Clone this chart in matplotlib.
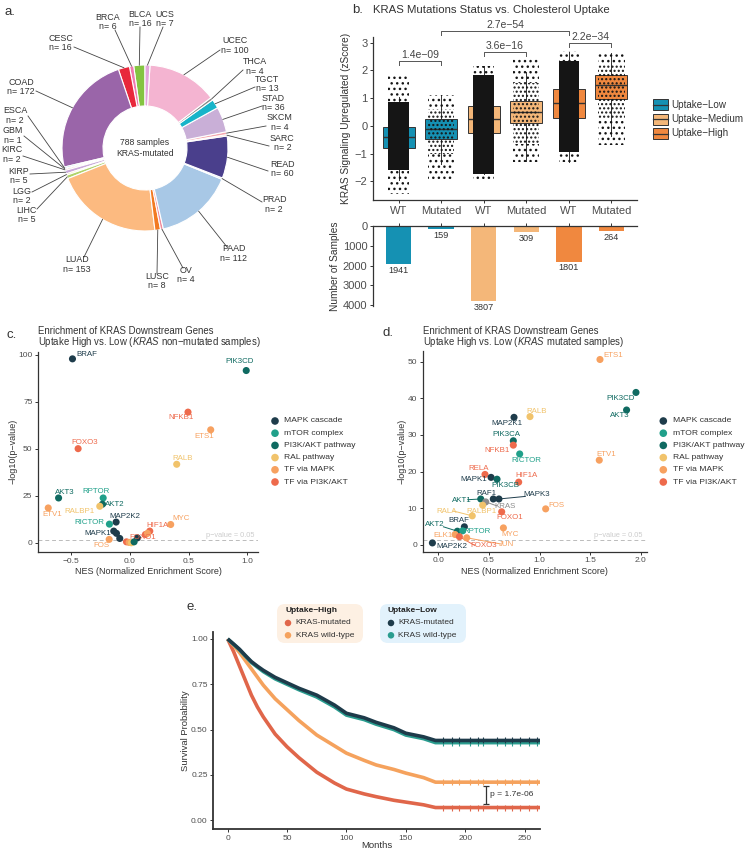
import matplotlib
matplotlib.use('Agg')
import matplotlib.pyplot as plt
import numpy as np
from matplotlib.patches import Rectangle, FancyBboxPatch

plt.rcParams['font.family'] = ['Liberation Sans', 'DejaVu Sans']
plt.rcParams['mathtext.fontset'] = 'custom'
plt.rcParams['mathtext.it'] = 'Liberation Sans:italic'
plt.rcParams['mathtext.rm'] = 'Liberation Sans'
plt.rcParams['hatch.linewidth'] = 1.0

# ---------------- DATA ----------------
# panel a
cancer_types = ['BLCA', 'BRCA', 'CESC', 'COAD', 'ESCA', 'GBM', 'KIRC', 'KIRP', 'LGG', 'LIHC',
                'LUAD', 'LUSC', 'OV', 'PAAD', 'PRAD', 'READ', 'SARC', 'SKCM', 'STAD', 'TGCT',
                'THCA', 'UCEC', 'UCS']
cancer_counts = [16, 6, 16, 172, 2, 1, 2, 5, 2, 5, 153, 8, 4, 112, 2, 60, 2, 4, 36, 13, 4, 100, 7]
cancer_colors = ['#84c441', '#f07ab0', '#e8283c', '#9a65a9', '#5bb2d6', '#7b7b7b', '#d98a6a', '#c9a9d9',
                 '#e8b04a', '#b0d36a', '#fcba80', '#f27a22', '#f08a9a', '#a8c8e6', '#9fd7ee', '#4a3f8c',
                 '#f7a07a', '#f5a6ad', '#c9afd7', '#17b4c9', '#8a8a8a', '#f4b4d1', '#e2a6da']
center_text = '788 samples\nKRAS-mutated'

# panel b
status_labels = ['WT', 'Mutated', 'WT', 'Mutated', 'WT', 'Mutated']
uptake_levels = ['Uptake\u2212Low', 'Uptake\u2212Medium', 'Uptake\u2212High']
box_q1 = [-0.81, -0.48, -0.27, 0.12, 0.28, 0.97]
box_med = [-0.41, -0.12, 0.24, 0.50, 0.82, 1.49]
box_q3 = [-0.05, 0.24, 0.70, 0.91, 1.33, 1.85]
box_whislo = [-1.95, -1.38, -1.73, -1.27, -1.30, -0.35]
box_whishi = [1.05, 1.12, 2.15, 1.93, 2.65, 2.62]
cloud_lo = [-2.45, -1.95, -1.97, -1.30, -1.32, -0.70]
cloud_hi = [1.80, 1.12, 2.17, 2.40, 2.70, 2.65]
core_lo = [-1.60, -1.00, -1.75, -0.65, -0.95, 0.25]
core_hi = [0.85, 0.60, 1.85, 1.55, 2.35, 2.25]
sample_counts = [1941, 159, 3807, 309, 1801, 264]
comp_pairs = [(1, 2), (3, 4), (5, 6), (2, 5)]
comp_pvals = ['1.4e\u221209', '3.6e\u221216', '2.2e\u221234', '2.7e\u221254']

# panel c/d
group_names = ['MAPK cascade', 'mTOR complex', 'PI3K/AKT pathway', 'RAL pathway', 'TF via MAPK', 'TF via PI3K/AKT']
group_colors = ['#1e3c4b', '#20a08a', '#0f6a61', '#f1c36b', '#f7a160', '#ee6a4c']

c_genes = ['BRAF', 'PIK3CD', 'NFKB1', 'ETS1', 'FOXO3', 'RALB', 'AKT3', 'RPTOR', 'AKT2', 'RALBP1', 'ETV1',
           'MAP2K2', 'RICTOR', 'MYC', 'HIF1A', 'FOXO1', 'MAPK1', 'MAPK3', 'RAF1', 'MAP2K1', 'FOS',
           'RELA', 'JUN', 'RALA', 'PIK3CA', 'ELK1']
c_group = [0, 2, 5, 4, 5, 3, 2, 1, 2, 3, 4, 0, 1, 4, 5, 5, 0, 0, 0, 0, 4, 5, 4, 3, 2, 4]
c_nes = [-0.487, 0.99, 0.495, 0.688, -0.439, 0.399, -0.605, -0.226, -0.232, -0.255, -0.693,
         -0.116, -0.173, 0.348, 0.17, 0.133, -0.136, -0.113, -0.085, 0.065, -0.175,
         -0.028, -0.006, 0.014, 0.037, 0.15]
c_logp = [97.7, 91.5, 69.4, 60.0, 50.0, 41.7, 23.8, 23.8, 20.5, 19.4, 18.5,
          11.0, 9.9, 9.7, 6.2, 4.4, 6.2, 5.0, 2.3, 2.6, 1.8,
          0.5, 0.2, 0.0, 0.5, 5.0]

d_genes = ['ETS1', 'PIK3CD', 'AKT3', 'MAP2K1', 'RALB', 'PIK3CA', 'NFKB1', 'RICTOR', 'ETV1', 'RELA',
           'MAPK1', 'PIK3CB', 'HIF1A', 'AKT1', 'KRAS', 'RAF1', 'MAPK3', 'RALBP1', 'RALA', 'FOS',
           'FOXO1', 'MYC', 'BRAF', 'AKT2', 'RPTOR', 'ELK1', 'FOXO3', 'JUN', 'MAP2K2']
d_group = [4, 2, 2, 0, 3, 2, 5, 1, 4, 5, 0, 2, 5, 2, -1, 0, 0, 3, 3, 4, 5, 4, 0, 2, 1, 4, 5, 4, 0]
d_nes = [1.598, 1.954, 1.861, 0.748, 0.906, 0.741, 0.741, 0.804, 1.591, 0.461,
         0.521, 0.58, 0.794, 0.419, 0.468, 0.543, 0.599, 0.438, 0.335, 1.061,
         0.626, 0.643, 0.257, 0.188, 0.24, 0.165, 0.208, 0.28, -0.059]
d_logp = [50.6, 41.6, 36.8, 34.8, 35.0, 28.4, 27.2, 24.8, 23.1, 19.2,
          18.4, 17.9, 17.1, 12.5, 11.7, 12.5, 12.5, 10.8, 7.9, 9.8,
          9.0, 4.6, 4.9, 3.7, 3.8, 2.8, 2.2, 1.9, 0.5]

# panel e
km_months = [0, 5, 10, 15, 20, 25, 30, 40, 50, 60, 75, 90, 100, 115, 125, 140, 150, 165, 175, 263]
surv_high_mut = [1.0, 0.93, 0.85, 0.77, 0.69, 0.625, 0.57, 0.475, 0.405, 0.345, 0.265, 0.205, 0.172,
                 0.145, 0.13, 0.11, 0.10, 0.085, 0.07, 0.07]
surv_high_wt = [1.0, 0.965, 0.925, 0.88, 0.835, 0.79, 0.745, 0.67, 0.61, 0.55, 0.47, 0.41, 0.37,
                0.33, 0.305, 0.28, 0.26, 0.235, 0.21, 0.21]
surv_low_wt = [1.0, 0.97, 0.94, 0.905, 0.87, 0.845, 0.82, 0.78, 0.75, 0.72, 0.68, 0.625, 0.58,
               0.555, 0.53, 0.50, 0.47, 0.45, 0.428, 0.428]
surv_low_mut = [1.0, 0.972, 0.943, 0.908, 0.875, 0.85, 0.827, 0.788, 0.758, 0.728, 0.69, 0.635, 0.59,
                0.565, 0.54, 0.51, 0.48, 0.46, 0.44, 0.44]
censor_months = [181.7, 188.8, 194.4, 204.2, 211.2, 215.4, 226.7, 233.7, 239.3, 246.3, 253.4, 260.4]
km_pvalue = 'p = 1.7e-06'

# ---------------- FIGURE ----------------
W, H = 747, 852
fig = plt.figure(figsize=(W / 100, H / 100), dpi=100)


def px_axes(x0, y0, x1, y1):
    return fig.add_axes([x0 / W, 1 - y1 / H, (x1 - x0) / W, (y1 - y0) / H])


AX = '#333333'
TK = '#4d4d4d'


def style_axes(ax, fs=6):
    for s in ['top', 'right']:
        ax.spines[s].set_visible(False)
    for s in ['left', 'bottom']:
        ax.spines[s].set_color(AX)
        ax.spines[s].set_linewidth(0.9)
    ax.tick_params(colors=AX, labelcolor=TK, labelsize=fs, length=2.5, width=0.7, pad=1.5)


# ---------- panel a ----------
ax_a = px_axes(0, 0, 300, 300)
cx, cy, R = 145, 300 - 148, 83
wedges, _ = ax_a.pie(cancer_counts, colors=cancer_colors, startangle=90, counterclock=True,
                     center=(cx, cy), radius=R,
                     wedgeprops=dict(width=41, edgecolor='white', linewidth=0.8))
ax_a.set_xlim(0, 300)
ax_a.set_ylim(0, 300)
ax_a.set_aspect('auto')
ax_a.axis('off')
ax_a.text(cx, cy, center_text, ha='center', va='center', fontsize=6.2, color='#333333', linespacing=1.35)

# label layout (pixel coords, y down): text anchor x, y, ha, line end x, y
label_layout = {
    'BLCA': (140, 19, 'center', 140, 27), 'BRCA': (108, 22, 'center', 115, 30),
    'CESC': (73, 43, 'right', 74, 47), 'COAD': (35, 87, 'right', 36, 91),
    'ESCA': (27, 115.5, 'right', 28, 116), 'GBM': (23, 135.5, 'right', 24, 136),
    'KIRC': (22, 154.5, 'right', 23, 156), 'KIRP': (29, 176, 'right', 30, 174),
    'LGG': (31, 196, 'right', 32, 192), 'LIHC': (37, 215, 'right', 37, 209),
    'LUAD': (77, 264.5, 'center', 84, 257), 'LUSC': (157, 281, 'center', 157, 274),
    'OV': (186, 275, 'center', 183, 268), 'PAAD': (234, 253.5, 'center', 227, 247),
    'PRAD': (262, 204.5, 'left', 262, 202), 'READ': (270, 169, 'left', 268, 171),
    'SARC': (270, 143, 'left', 269, 146), 'SKCM': (267, 122.5, 'left', 266, 126),
    'STAD': (262, 103, 'left', 262, 106), 'TGCT': (255, 84, 'left', 255, 87),
    'THCA': (243, 66.5, 'left', 243, 70), 'UCEC': (221, 45.5, 'left', 220, 50),
    'UCS': (165, 19, 'center', 163, 27),
}
for w, name, n in zip(wedges, cancer_types, cancer_counts):
    ang = np.deg2rad((w.theta1 + w.theta2) / 2)
    tx, ty, ha, lx, ly = label_layout[name]
    ax_a.plot([cx + R * np.cos(ang), lx], [cy + R * np.sin(ang), 300 - ly], color='#444444', lw=0.6)
    ax_a.text(tx, 300 - ty, f'{name}\nn= {n}', ha=ha, va='center', fontsize=6.4, color='#333333',
              linespacing=1.05, multialignment='center')

# ---------- panel b (box plots) ----------
box_pos = [1, 2, 3, 4, 5, 6]
box_colors = ['#1591b3', '#1591b3', '#f4b779', '#f4b779', '#f0883f', '#f0883f']
ax_b = px_axes(373, 37, 637, 200)
stats = [dict(med=box_med[i], q1=box_q1[i], q3=box_q3[i], whislo=box_whislo[i],
              whishi=box_whishi[i], fliers=[]) for i in range(6)]
bp = ax_b.bxp(stats, positions=box_pos, widths=0.75, patch_artist=True, showfliers=False, showcaps=False,
              boxprops=dict(linewidth=0.7, edgecolor='#333333'),
              medianprops=dict(color='#333333', linewidth=1.0),
              whiskerprops=dict(color='#333333', linewidth=0.7))
for patch, c in zip(bp['boxes'], box_colors):
    patch.set_facecolor(c)
for i, x in enumerate(box_pos):
    dense = sample_counts[i] > 1000
    hw = 0.24 if dense else 0.31
    if dense:
        ax_b.add_patch(Rectangle((x - hw, core_lo[i]), 2 * hw, core_hi[i] - core_lo[i],
                                 facecolor='#151515', edgecolor='none', zorder=4))
    else:
        ax_b.add_patch(Rectangle((x - hw, core_lo[i]), 2 * hw, core_hi[i] - core_lo[i],
                                 facecolor='none', edgecolor='#151515', hatch='....', linewidth=0, zorder=4))
    for lo, hi in [(cloud_lo[i], core_lo[i]), (core_hi[i], cloud_hi[i])]:
        ax_b.add_patch(Rectangle((x - hw, lo), 2 * hw, hi - lo, facecolor='none', edgecolor='#151515',
                                 hatch='...', linewidth=0, zorder=4))
ax_b.set_xlim(0.4, 6.6)
ax_b.set_ylim(-2.68, 3.21)
ax_b.set_yticks([-2, -1, 0, 1, 2, 3])
ax_b.set_xticks(box_pos)
ax_b.set_xticklabels(status_labels)
style_axes(ax_b, fs=8)
ax_b.set_ylabel('KRAS Signaling Upregulated (zScore)', fontsize=7.3, color='#333333', labelpad=3)
bracket_y = [2.34, 2.67, 3.0, 3.43]
for (a, b), lab, yb in zip(comp_pairs, comp_pvals, bracket_y):
    ax_b.plot([a, a, b, b], [yb - 0.15, yb, yb, yb - 0.15], color='#555555', lw=0.7, clip_on=False)
    ax_b.text((a + b) / 2, yb + 0.04, lab, ha='center', va='bottom', fontsize=7.5, color='#444444', clip_on=False)

# ---------- panel b (bars) ----------
ax_bb = px_axes(373, 226, 637, 306)
ax_bb.bar(box_pos, sample_counts, width=0.6, color=box_colors)
ax_bb.set_xlim(0.4, 6.6)
ax_bb.set_ylim(4050, 0)
ax_bb.set_yticks([0, 1000, 2000, 3000, 4000])
ax_bb.set_xticks(box_pos)
ax_bb.xaxis.tick_top()
ax_bb.set_xticklabels([])
for s in ['bottom', 'right']:
    ax_bb.spines[s].set_visible(False)
for s in ['left', 'top']:
    ax_bb.spines[s].set_color(AX)
    ax_bb.spines[s].set_linewidth(0.9)
ax_bb.tick_params(colors=AX, labelcolor=TK, labelsize=8, length=2.5, width=0.7, pad=1.5)
for x, n in zip(box_pos, sample_counts):
    ax_bb.text(x, n + 90, str(n), ha='center', va='top', fontsize=6.6, color='#333333')
ax_bb.set_ylabel('Number of Samples', fontsize=7.3, color='#333333', labelpad=2)

# ---------- panel c / d ----------
def scatter_panel(ax, genes, grp, nes, logp, lab_pos, lines):
    for g, gn, x, y in zip(genes, grp, nes, logp):
        col = '#8c8c8c' if gn < 0 else group_colors[gn]
        ax.scatter(x, y, s=26, color=col, edgecolors='none', zorder=3)
    for g, gn, x, y in zip(genes, grp, nes, logp):
        if g not in lab_pos:
            continue
        col = '#8c8c8c' if gn < 0 else group_colors[gn]
        lx, ly, ha = lab_pos[g]
        if g in lines:
            ex, ey = lines[g]
            ax.plot([x, ex], [y, ey], color=col, lw=0.7, zorder=2)
        ax.text(lx, ly, g, ha=ha, va='center', fontsize=5.7, color=col, zorder=4)
    ax.axhline(-np.log10(0.05), color='#bbbbbb', lw=0.7, ls=(0, (4, 3)), zorder=1)
    style_axes(ax, fs=6)
    ax.set_xlabel('NES (Normalized Enrichment Score)', fontsize=6.5, color='#333333', labelpad=2)
    ax.set_ylabel('\u2212log10(p\u2212value)', fontsize=6.5, color='#333333', labelpad=0.5)


ax_c = px_axes(38, 351.7, 258, 552)
c_labels = {
    'BRAF': (-0.45, 100, 'left'), 'PIK3CD': (0.935, 96.5, 'center'), 'NFKB1': (0.439, 66.4, 'center'),
    'ETS1': (0.631, 56.5, 'center'), 'FOXO3': (-0.382, 53.2, 'center'), 'RALB': (0.453, 44.7, 'center'),
    'AKT3': (-0.552, 26.9, 'center'), 'RPTOR': (-0.289, 27.0, 'center'), 'AKT2': (-0.127, 20.5, 'center'),
    'RALBP1': (-0.424, 16.4, 'center'), 'ETV1': (-0.656, 15.0, 'center'), 'MAP2K2': (-0.042, 14.1, 'center'),
    'RICTOR': (-0.34, 10.6, 'center'), 'MYC': (0.433, 12.9, 'center'), 'HIF1A': (0.24, 9.4, 'center'),
    'MAPK1': (-0.269, 5.0, 'center'), 'FOS': (-0.24, -1.2, 'center'), 'FOXO1': (0.108, 2.9, 'center'),
}
scatter_panel(ax_c, c_genes, c_group, c_nes, c_logp, c_labels, {})
ax_c.set_xlim(-0.78, 1.09)
ax_c.set_ylim(-4.9, 101.5)
ax_c.set_xticks([-0.5, 0.0, 0.5, 1.0])
ax_c.set_yticks([0, 25, 50, 75, 100])
ax_c.text(0.85, 3.7, 'p\u2212value = 0.05', ha='center', va='center', fontsize=5.3, color='#cccccc')

ax_d = px_axes(422.7, 350.7, 646.7, 551.7)
d_labels = {
    'ETS1': (1.729, 51.6, 'center'), 'PIK3CD': (1.80, 40.0, 'center'), 'AKT3': (1.795, 35.2, 'center'),
    'MAP2K1': (0.676, 33.2, 'center'), 'RALB': (0.972, 36.5, 'center'), 'PIK3CA': (0.669, 30.2, 'center'),
    'NFKB1': (0.583, 25.8, 'center'), 'RICTOR': (0.867, 23.0, 'center'), 'ETV1': (1.657, 24.7, 'center'),
    'RELA': (0.395, 20.9, 'center'), 'MAPK1': (0.346, 17.7, 'center'), 'PIK3CB': (0.659, 16.3, 'center'),
    'HIF1A': (0.873, 19.0, 'center'), 'AKT1': (0.231, 12.2, 'center'), 'RAF1': (0.471, 14.0, 'center'),
    'MAPK3': (0.972, 13.6, 'center'), 'KRAS': (0.659, 10.4, 'center'), 'RALA': (0.083, 9.2, 'center'),
    'RALBP1': (0.43, 9.2, 'center'), 'FOS': (1.17, 10.6, 'center'), 'FOXO1': (0.708, 7.5, 'center'),
    'MYC': (0.708, 2.9, 'center'), 'BRAF': (0.198, 6.5, 'center'), 'AKT2': (-0.033, 5.4, 'center'),
    'RPTOR': (0.379, 3.6, 'center'), 'ELK1': (0.043, 2.4, 'center'), 'FOXO3': (0.445, -0.3, 'center'),
    'JUN': (0.676, 0.0, 'center'), 'MAP2K2': (0.132, -0.4, 'center'),
}
d_lines = {'MAPK3': (0.86, 13.2), 'KRAS': (0.58, 10.6), 'AKT2': (0.05, 4.9), 'FOXO3': (0.36, -0.2),
           'JUN': (0.62, 0.2), 'AKT1': (0.29, 12.3), 'RALA': (0.15, 9.2)}
scatter_panel(ax_d, d_genes, d_group, d_nes, d_logp, d_labels, d_lines)
ax_d.set_xlim(-0.155, 2.06)
ax_d.set_ylim(-1.9, 53)
ax_d.set_xticks([0.0, 0.5, 1.0, 1.5, 2.0])
ax_d.set_yticks([0, 10, 20, 30, 40, 50])
ax_d.text(1.78, 2.5, 'p\u2212value = 0.05', ha='center', va='center', fontsize=5.3, color='#cccccc')

# ---------- panel e ----------
ax_e = px_axes(213.3, 631.7, 540, 829.3)
km_colors = ['#e0664a', '#f5a25d', '#2a9d8f', '#1e3b4a']
for surv, col in zip([surv_high_mut, surv_high_wt, surv_low_wt, surv_low_mut], km_colors):
    ax_e.plot(km_months, surv, color=col, lw=2.6, solid_capstyle='butt')
    ax_e.plot(censor_months, np.full(len(censor_months), surv[-1]), ls='none', marker='|',
              ms=4, mew=0.8, color=col)
ax_e.set_xlim(-12.1, 263)
ax_e.set_ylim(-0.05, 1.04)
ax_e.set_xticks([0, 50, 100, 150, 200, 250])
ax_e.set_yticks([0, 0.25, 0.5, 0.75, 1.0])
ax_e.set_yticklabels(['0.00', '0.25', '0.50', '0.75', '1.00'])
style_axes(ax_e, fs=6)
ax_e.spines['left'].set_linewidth(1.3)
ax_e.spines['bottom'].set_linewidth(1.3)
ax_e.set_ylabel('Survival Probability', fontsize=6.8, color='#333333', labelpad=1)
ax_e.errorbar([217.7], [0.1395], yerr=[0.0515], color='#333333', lw=0.9, capsize=2.5, capthick=0.9)
ax_e.text(220.5, 0.14, km_pvalue, ha='left', va='center', fontsize=6.1, color='#333333')

# ---------- overlay: titles, legends ----------
ov = fig.add_axes([0, 0, 1, 1])
ov.set_xlim(0, W)
ov.set_ylim(H, 0)
ov.axis('off')
ov.text(376.6, 845.5, 'Months', fontsize=6.8, color='#333333', ha='center', va='center')
for t, x, y in [('a.', 10, 12), ('b.', 358, 10), ('c.', 12, 335), ('d.', 388, 333), ('e.', 192, 607)]:
    ov.text(x, y, t, fontsize=9.5, color='#333333', ha='center', va='center')
ov.text(373, 10, 'KRAS Mutations Status vs. Cholesterol Uptake', fontsize=8.2, color='#333333', va='center')
for x0, kind in [(38, 'non\u2212mutated'), (423, 'mutated')]:
    ov.text(x0, 331, 'Enrichment of KRAS Downstream Genes', fontsize=6.9, color='#333333', va='center')
    ov.text(x0, 342, 'Uptake High vs. Low ($\\it{KRAS}$ ' + kind + ' samples)', fontsize=6.9,
            color='#333333', va='center')

# panel b legend
for i, lab in enumerate(uptake_levels):
    y = 104.5 + i * 14.5
    ov.add_patch(Rectangle((653, y - 5.5), 15, 11, facecolor=box_colors[2 * i], edgecolor='#333333', lw=0.7))
    ov.plot([653, 668], [y, y], color='#333333', lw=0.9)
    ov.text(671, y, lab, fontsize=7.1, color='#333333', va='center')

# panel c/d legends
for lx in [275, 663.3]:
    for i, (gname, gcol) in enumerate(zip(group_names, group_colors)):
        y = 421 + i * 12.2
        ov.scatter([lx], [y], s=30, color=gcol, edgecolors='none')
        ov.text(lx + 9.5, y, gname, fontsize=6.1, color='#333333', va='center')

# panel e legends
for bx, title, fc, cols in [(277, 'Uptake\u2212High', '#fdf0e3', km_colors[:2]),
                            (380, 'Uptake\u2212Low', '#e2f2fc', [km_colors[3], km_colors[2]])]:
    ov.add_patch(FancyBboxPatch((bx, 604), 86, 39, boxstyle='round,pad=0,rounding_size=8',
                                facecolor=fc, edgecolor='none'))
    ov.text(bx + 8, 611, title, fontsize=6.0, fontweight='bold', color='#222222', va='center')
    for j, lab in enumerate(['KRAS-mutated', 'KRAS wild-type']):
        y = 623 + j * 12.3
        ov.scatter([bx + 11], [y], s=22, color=cols[j], edgecolors='none')
        ov.text(bx + 18.5, y, lab, fontsize=6.0, color='#333333', va='center')

fig.savefig('out.png', dpi=100)
